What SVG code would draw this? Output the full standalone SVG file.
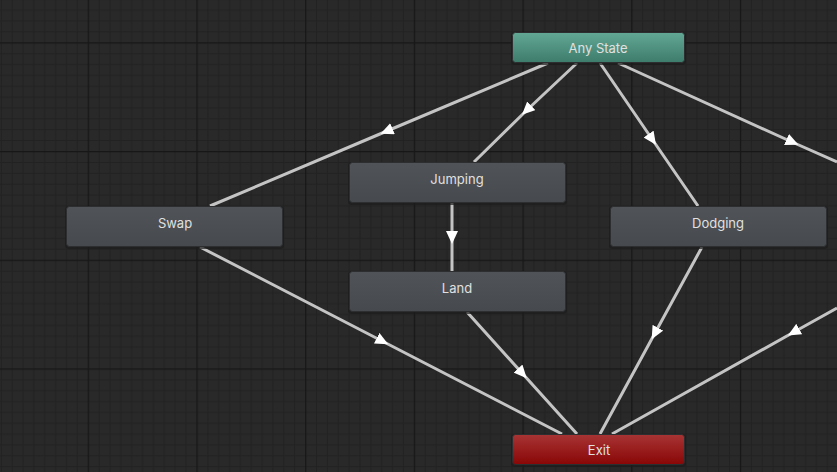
<svg xmlns="http://www.w3.org/2000/svg" width="837" height="472" viewBox="0 0 837 472">
<style>
.edge{fill:none;stroke:#c4c4c4;stroke-width:3;marker-mid:url(#arr)}
.lbl{font-family:Inter,Roboto,"Liberation Sans",sans-serif;font-size:13px;fill:#e0e0e0;text-anchor:middle}
.node{stroke:#2c2e30;stroke-width:1}
.shadow{fill:#1c1c1c;opacity:0.7}
</style>
<defs>
<pattern id="grid" patternUnits="userSpaceOnUse" x="87.7" y="42.3" width="108.7" height="108.7">
<rect width="108.7" height="108.7" fill="#292929"/>
<g fill="#212121">
<rect x="10.87" y="0" width="1" height="108.7"/><rect x="21.74" y="0" width="1" height="108.7"/><rect x="32.61" y="0" width="1" height="108.7"/><rect x="43.48" y="0" width="1" height="108.7"/><rect x="54.35" y="0" width="1" height="108.7"/><rect x="65.22" y="0" width="1" height="108.7"/><rect x="76.09" y="0" width="1" height="108.7"/><rect x="86.96" y="0" width="1" height="108.7"/><rect x="97.83" y="0" width="1" height="108.7"/>
<rect y="10.87" x="0" height="1" width="108.7"/><rect y="21.74" x="0" height="1" width="108.7"/><rect y="32.61" x="0" height="1" width="108.7"/><rect y="43.48" x="0" height="1" width="108.7"/><rect y="54.35" x="0" height="1" width="108.7"/><rect y="65.22" x="0" height="1" width="108.7"/><rect y="76.09" x="0" height="1" width="108.7"/><rect y="86.96" x="0" height="1" width="108.7"/><rect y="97.83" x="0" height="1" width="108.7"/>
</g>
<g fill="#171717">
<rect x="0" y="0" width="1.3" height="108.7"/><rect x="0" y="0" width="108.7" height="1.3"/>
</g>
</pattern>
<linearGradient id="gGray" x1="0" y1="0" x2="0" y2="1"><stop offset="0" stop-color="#505357"/><stop offset="1" stop-color="#46494d"/></linearGradient>
<linearGradient id="gTeal" x1="0" y1="0" x2="0" y2="1"><stop offset="0" stop-color="#62a894"/><stop offset="1" stop-color="#3e7b6b"/></linearGradient>
<linearGradient id="gRed" x1="0" y1="0" x2="0" y2="1"><stop offset="0" stop-color="#a83434"/><stop offset="1" stop-color="#890606"/></linearGradient>
<marker id="arr" markerUnits="userSpaceOnUse" viewBox="0 0 13 12" refX="6" refY="6" markerWidth="13" markerHeight="12" orient="auto">
<path d="M0,0 L13,6 L0,12 z" fill="#ffffff"/>
</marker>
</defs>
<rect width="837" height="472" fill="url(#grid)"/>
<g id="connectors">
<path class="edge" d="M548,63 L387,131 L210,206"/>
<path class="edge" d="M577,63 L527,110 L474,162"/>
<path class="edge" d="M600,63 L652,139 L698,206"/>
<path class="edge" d="M618,63 L792,142 L837,162"/>
<path class="edge" d="M452,203 L452,237 L452,271"/>
<path class="edge" d="M200,247 L382,341 L562,434"/>
<path class="edge" d="M467,312 L522,373 L577,434"/>
<path class="edge" d="M702,247 L655,333 L600,434"/>
<path class="edge" d="M837,308 L794,332 L612,434"/>
</g>
<g id="any-state">
<rect class="shadow" x="511" y="32" width="175" height="33" rx="4"/>
<rect class="node" x="512.5" y="32.5" width="172" height="30" rx="3" fill="url(#gTeal)" stroke="#3a6e60"/>
<text class="lbl" x="598" y="53">Any State</text>
</g>
<g id="jumping">
<rect class="shadow" x="348" y="162" width="219" height="43" rx="4"/>
<rect class="node" x="349.5" y="162.5" width="216" height="40" rx="3" fill="url(#gGray)"/>
<text class="lbl" x="457" y="183.5">Jumping</text>
</g>
<g id="swap">
<rect class="shadow" x="65" y="206" width="219" height="43" rx="4"/>
<rect class="node" x="66.5" y="206.5" width="216" height="40" rx="3" fill="url(#gGray)"/>
<text class="lbl" x="175" y="227.5">Swap</text>
</g>
<g id="dodging">
<rect class="shadow" x="609" y="206" width="219" height="43" rx="4"/>
<rect class="node" x="610.5" y="206.5" width="216" height="40" rx="3" fill="url(#gGray)"/>
<text class="lbl" x="718" y="227.5">Dodging</text>
</g>
<g id="land">
<rect class="shadow" x="348" y="271" width="219" height="43" rx="4"/>
<rect class="node" x="349.5" y="271.5" width="216" height="40" rx="3" fill="url(#gGray)"/>
<text class="lbl" x="457" y="292.5">Land</text>
</g>
<g id="exit">
<rect class="shadow" x="511" y="434" width="175" height="33" rx="4"/>
<rect class="node" x="512.5" y="434.5" width="172" height="30" rx="3" fill="url(#gRed)" stroke="#5e0a0a"/>
<text class="lbl" x="599" y="455">Exit</text>
</g>
</svg>
